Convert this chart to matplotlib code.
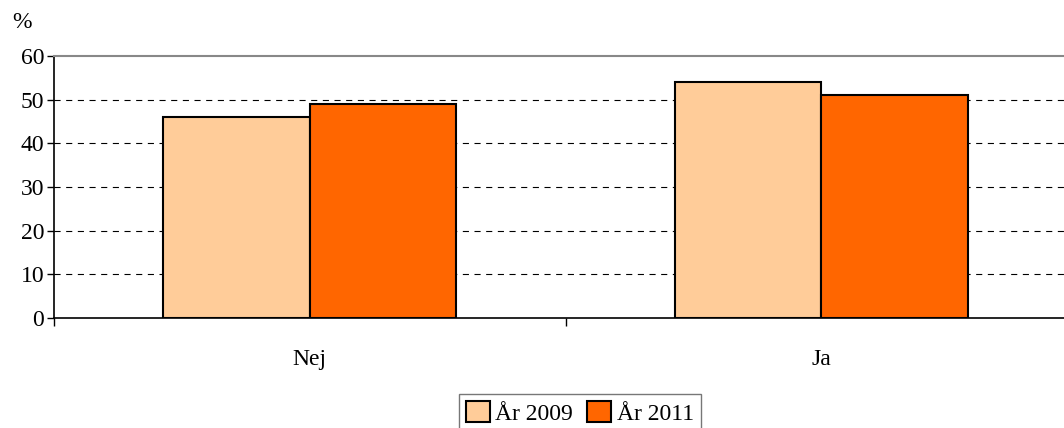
import matplotlib.pyplot as plt
import numpy as np

plt.rcParams['font.family'] = ['Liberation Serif', 'DejaVu Serif']

kategorier = ['Nej', 'Ja']
ar_2009 = [46, 54]
ar_2011 = [49, 51]
serie_namn = ['År 2009', 'År 2011']
y_ticks = [0, 10, 20, 30, 40, 50, 60]

fig = plt.figure(figsize=(10.64, 4.28), dpi=100)
ax = fig.add_axes([54 / 1064, 110 / 428, 1023 / 1064, 262 / 428])

x = np.arange(len(kategorier))
w = 0.2867
b1 = ax.bar(x - w / 2, ar_2009, width=w, color='#FFCC99', edgecolor='black',
            linewidth=1.5, label=serie_namn[0], zorder=3)
b2 = ax.bar(x + w / 2, ar_2011, width=w, color='#FF6600', edgecolor='black',
            linewidth=1.5, label=serie_namn[1], zorder=3)

ax.set_xlim(-0.5, len(kategorier) - 0.5)
ax.set_ylim(0, 60)
ax.set_yticks(y_ticks)
ax.set_yticklabels([str(v) for v in y_ticks], fontsize=17)
for v in y_ticks[1:-1]:
    ax.axhline(v, color='black', linestyle=(0, (5.5, 5)), linewidth=0.8, zorder=1)

# kategorietiketter mitt i varje grupp, tickstreck mellan grupperna
ax.set_xticks(np.arange(len(kategorier) + 1) - 0.5)
ax.set_xticklabels([])
ax.set_xticks(x, minor=True)
ax.set_xticklabels(kategorier, minor=True, fontsize=17)
ax.tick_params(axis='x', which='minor', length=0, pad=22)
ax.tick_params(axis='x', which='major', direction='out', length=6, width=1)
ax.tick_params(axis='y', direction='out', length=5, width=1, pad=2)

ax.spines['top'].set_color('#888888')
ax.spines['top'].set_linewidth(1.5)
ax.spines['right'].set_visible(False)
ax.spines['left'].set_linewidth(1.2)
ax.spines['bottom'].set_linewidth(1.2)

fig.text(12 / 1064, 1 - 22 / 428, '%', fontsize=17, va='center', ha='left')

leg = fig.legend(loc='upper center', bbox_to_anchor=(580 / 1064, 1 - 394 / 428),
                 ncol=2, fontsize=17, frameon=True, fancybox=False,
                 edgecolor='#555555', handlelength=1.0, handleheight=1.0,
                 handletextpad=0.25, columnspacing=0.6, borderpad=0.3,
                 borderaxespad=0)
leg.get_frame().set_linewidth(1)

fig.savefig('out.png', dpi=100)
